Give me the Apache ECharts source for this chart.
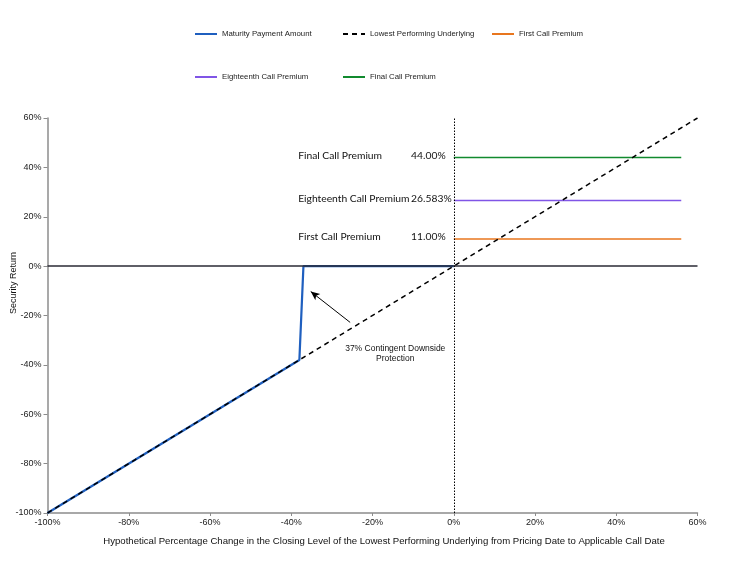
<!DOCTYPE html>
<html>
<head>
<meta charset="utf-8">
<script src="https://cdn.jsdelivr.net/npm/echarts@6/dist/echarts.min.js"></script>
<style>
  html, body { margin: 0; padding: 0; background: #fff; }
  #chart { width: 738px; height: 568px; }
</style>
</head>
<body>
<div id="chart"></div>
<script>
// Payoff profile: security return vs. change in the lowest performing underlying (%)
const xTicks = [-100, -80, -60, -40, -20, 0, 20, 40, 60];
const yTicks = [-100, -80, -60, -40, -20, 0, 20, 40, 60];

// Maturity payment: tracks the underlying below the 37% barrier, principal back above it
const maturityX = [-100, -38, -37, 0];
const maturityY = [-100, -38, 0, 0];

// Lowest performing underlying (1:1 line)
const underlyingX = [-100, 60];
const underlyingY = [-100, 60];

// Call premiums, flat from 0% to the right end of the range
const premiumX = [0, 56];
const firstCallPremium = 11.0;
const eighteenthCallPremium = 26.583;
const finalCallPremium = 44.0;
const premiumNames = ['First Call Premium', 'Eighteenth Call Premium', 'Final Call Premium'];
const premiumValueText = ['11.00%', '26.583%', '44.00%'];

const barrierText = '37% Contingent Downside\nProtection';

const pairs = (xs, ys) => xs.map((x, i) => [x, ys[i]]);
const flat = (xs, v) => xs.map(x => [x, v]);

const AXIS_FONT = '"Liberation Sans", Arial, sans-serif';
const NOTE_FONT = 'Lato, "Open Sans", sans-serif';

const chart = echarts.init(document.getElementById('chart'), null, { renderer: 'canvas' });

// legend entries show only the line sample (symbol hidden)
const legendBase = {
  orient: 'horizontal',
  itemWidth: 22,
  itemHeight: 10,
  itemGap: 5,
  itemStyle: { opacity: 0 },
  textStyle: { fontFamily: AXIS_FONT, fontSize: 7.8, color: '#222' },
  selectedMode: false
};

const option = {
  animation: false,
  backgroundColor: '#fff',
  legend: [
    Object.assign({}, legendBase, { left: 189, top: 25, data: ['Maturity Payment Amount'] }),
    Object.assign({}, legendBase, { left: 337, top: 25, data: ['Lowest Performing Underlying'] }),
    Object.assign({}, legendBase, { left: 486, top: 25, data: ['First Call Premium'] }),
    Object.assign({}, legendBase, { left: 189, top: 68, data: ['Eighteenth Call Premium'] }),
    Object.assign({}, legendBase, { left: 337, top: 68, data: ['Final Call Premium'] })
  ],
  grid: { left: 47.5, right: 40.5, top: 118, bottom: 55, containLabel: false },
  xAxis: {
    type: 'value',
    min: xTicks[0],
    max: xTicks[xTicks.length - 1],
    interval: 20,
    axisLine: { show: true, onZero: false, lineStyle: { color: '#8c8c8c', width: 1.5 } },
    axisTick: { show: true, length: 3, lineStyle: { color: '#8c8c8c' } },
    splitLine: { show: false },
    axisLabel: {
      fontFamily: AXIS_FONT, fontSize: 9, color: '#222', margin: 5,
      formatter: v => v + '%'
    }
  },
  yAxis: {
    type: 'value',
    min: yTicks[0],
    max: yTicks[yTicks.length - 1],
    interval: 20,
    axisLine: { show: true, onZero: false, lineStyle: { color: '#8c8c8c', width: 1.5 } },
    axisTick: { show: true, length: 4, lineStyle: { color: '#8c8c8c' } },
    splitLine: { show: false },
    axisLabel: {
      fontFamily: AXIS_FONT, fontSize: 9, color: '#222', margin: 6,
      formatter: v => v + '%'
    }
  },
  series: [
    {
      name: 'Maturity Payment Amount',
      type: 'line',
      z: 2,
      symbol: 'none',
      data: pairs(maturityX, maturityY),
      lineStyle: { color: '#1f5fbf', width: 2.2 },
      itemStyle: { color: '#1f5fbf' }
    },
    {
      name: 'Lowest Performing Underlying',
      type: 'line',
      z: 4,
      symbol: 'none',
      data: pairs(underlyingX, underlyingY),
      lineStyle: { color: '#000', width: 1.5, type: [5, 4] },
      itemStyle: { color: '#000' },
      markLine: {
        silent: true,
        symbol: ['none', 'none'],
        label: { show: false },
        animation: false,
        data: [
          { yAxis: 0, lineStyle: { color: '#2a2a35', width: 1.5, type: 'solid' } },
          { xAxis: 0, lineStyle: { color: '#000', width: 1, type: [1.5, 1.5] } },
          [
            { coord: [-25.5, -22.8], symbol: 'none', lineStyle: { color: '#000', width: 1, type: 'solid' } },
            { coord: [-35.2, -10.3], symbol: 'arrow', symbolSize: [6, 9] }
          ]
        ]
      }
    },
    {
      name: 'First Call Premium',
      type: 'line',
      z: 3,
      symbol: 'none',
      data: flat(premiumX, firstCallPremium),
      lineStyle: { color: '#e8761e', width: 1.6 },
      itemStyle: { color: '#e8761e' }
    },
    {
      name: 'Eighteenth Call Premium',
      type: 'line',
      z: 3,
      symbol: 'none',
      data: flat(premiumX, eighteenthCallPremium),
      lineStyle: { color: '#8055e6', width: 1.6 },
      itemStyle: { color: '#8055e6' }
    },
    {
      name: 'Final Call Premium',
      type: 'line',
      z: 3,
      symbol: 'none',
      data: flat(premiumX, finalCallPremium),
      lineStyle: { color: '#118a2e', width: 1.6 },
      itemStyle: { color: '#118a2e' }
    }
  ]
};

chart.setOption(option);

// Text annotations placed in data coordinates
const premiumLevels = [firstCallPremium, eighteenthCallPremium, finalCallPremium];
const px = (x, y) => chart.convertToPixel({ gridIndex: 0 }, [x, y]);
const graphics = [];

premiumLevels.forEach((v, i) => {
  const nameAt = px(-38.3, v);
  const valAt = px(-10.5, v);
  graphics.push({
    type: 'text', x: nameAt[0], y: nameAt[1] - 2, silent: true,
    style: { text: premiumNames[i], font: '10.3px ' + NOTE_FONT, fill: '#111', textVerticalAlign: 'middle', textAlign: 'left' }
  });
  graphics.push({
    type: 'text', x: valAt[0], y: valAt[1] - 2, silent: true,
    style: { text: premiumValueText[i], font: '10.3px ' + NOTE_FONT, fill: '#111', textVerticalAlign: 'middle', textAlign: 'left' }
  });
});

const noteAt = px(-14.4, -35.5);
graphics.push({
  type: 'text', x: noteAt[0], y: noteAt[1], silent: true,
  style: { text: barrierText, font: '8.5px ' + AXIS_FONT, fill: '#111', textAlign: 'center', textVerticalAlign: 'middle', lineHeight: 10 }
});

// Axis titles
graphics.push({
  type: 'text', x: 384, y: 541, silent: true,
  style: { text: 'Hypothetical Percentage Change in the Closing Level of the Lowest Performing Underlying from Pricing Date to Applicable Call Date', font: '9.6px ' + AXIS_FONT, fill: '#111', textAlign: 'center', textVerticalAlign: 'middle' }
});
graphics.push({
  type: 'text', x: 14, y: 283, rotation: Math.PI / 2, silent: true,
  style: { text: 'Security Return', font: '9px ' + AXIS_FONT, fill: '#111', textAlign: 'center', textVerticalAlign: 'middle' }
});

chart.setOption({ graphic: graphics });
</script>
</body>
</html>
